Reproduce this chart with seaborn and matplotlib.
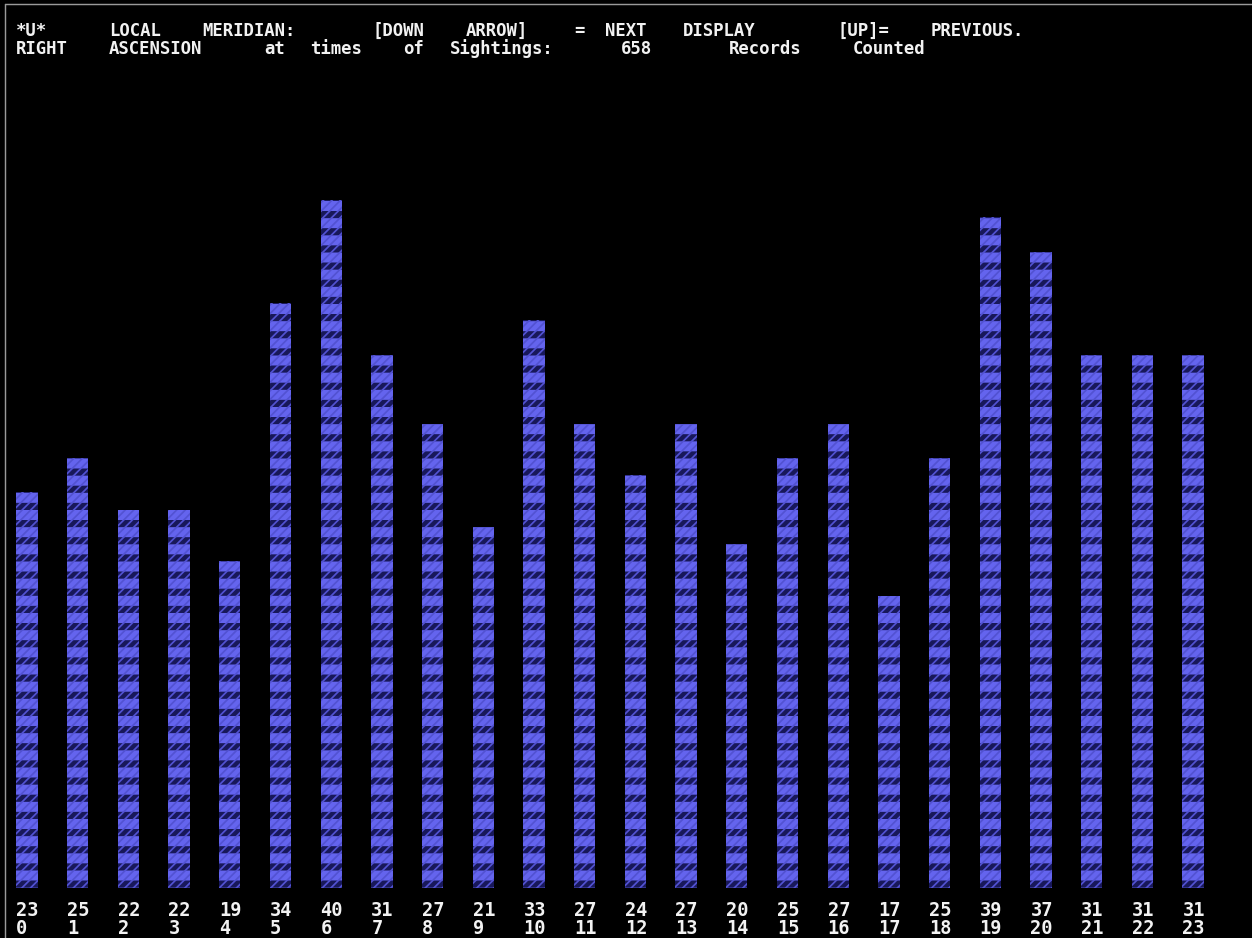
import re

import matplotlib
matplotlib.use("Agg")
import matplotlib.pyplot as plt
import matplotlib.transforms as mtransforms
from matplotlib.lines import Line2D
import pandas as pd
import seaborn as sns

# UFO sightings counted per hour of right ascension
hours = list(range(24))
counts = [23, 25, 22, 22, 19, 34, 40, 31, 27, 21, 33, 27,
          24, 27, 20, 25, 27, 17, 25, 39, 37, 31, 31, 31]
total = sum(counts)

title_line = "*U*   LOCAL MERIDIAN:  [DOWN ARROW] = NEXT DISPLAY   [UP]= PREVIOUS."
subtitle_line = f"RIGHT ASCENSION at times of Sightings: {total}    Records Counted"

df = pd.DataFrame({"hour": hours, "count": counts})

# screen geometry (pixels)
W, H = 1252, 938
DPI = 103.2            # makes the '-' hatch period = one bar unit
UNIT_PX = DPI / 6.0    # pixels per sighting
BASE_PX = 888          # bar baseline, from top
COL_PX = 15.5          # width of one text column
BAR_STEP = 50.7

CLOUD = "#6464ee"
RAIN = "#18185a"
STREAK = "#5252d2"
WHITE = "#f2f2f2"
FONT = dict(family="DejaVu Sans Mono", fontweight="bold", color=WHITE)

sns.set_style("dark")

fig = plt.figure(figsize=(W / DPI, H / DPI), dpi=DPI, facecolor="black")
left_px = 27 - BAR_STEP / 2
ax = fig.add_axes([left_px / W, (H - BASE_PX) / H, 24 * BAR_STEP / W, BASE_PX / H])
ax.set_facecolor("black")

# solid cloud body with dark horizontal rain bands
with plt.rc_context({"hatch.linewidth": 5.0}):
    sns.barplot(data=df, x="hour", y="count", color=CLOUD, saturation=1,
                width=0.42, edgecolor=RAIN, linewidth=0, hatch="-",
                errorbar=None, ax=ax)
# thin diagonal rain streaks on top
with plt.rc_context({"hatch.linewidth": 1.2}):
    sns.barplot(data=df, x="hour", y="count", color=STREAK, saturation=1,
                fill=False, width=0.42, linewidth=0, hatch="////",
                errorbar=None, ax=ax)

ax.set_xlim(-0.5, 23.5)
ax.set_ylim(0, BASE_PX / UNIT_PX)
ax.axis("off")

# count and hour labels under each bar, left aligned with the bar
trans = mtransforms.blended_transform_factory(ax.transData, fig.transFigure)
for i, (h, c) in enumerate(zip(hours, counts)):
    ax.text(i - 0.21, 1 - 916 / H, str(c), transform=trans, ha="left",
            va="baseline", clip_on=False, fontsize=13, **FONT)
    ax.text(i - 0.21, 1 - 934 / H, str(h), transform=trans, ha="left",
            va="baseline", clip_on=False, fontsize=13, **FONT)

# header lines placed on the character grid
for line, base in [(title_line, 36), (subtitle_line, 54)]:
    for m in re.finditer(r"\S+", line):
        fig.text((16 + m.start() * COL_PX) / W, 1 - base / H, m.group(),
                 ha="left", va="baseline", fontsize=12, **FONT)

# thin grey frame of the screenshot
fig.add_artist(Line2D([5 / W, 5 / W], [0, 1 - 4 / H], color="#9a9a9a", lw=1,
                      transform=fig.transFigure))
fig.add_artist(Line2D([5 / W, 1], [1 - 4 / H, 1 - 4 / H], color="#9a9a9a", lw=1,
                      transform=fig.transFigure))

fig.savefig("out.png", dpi=DPI, facecolor="black")
